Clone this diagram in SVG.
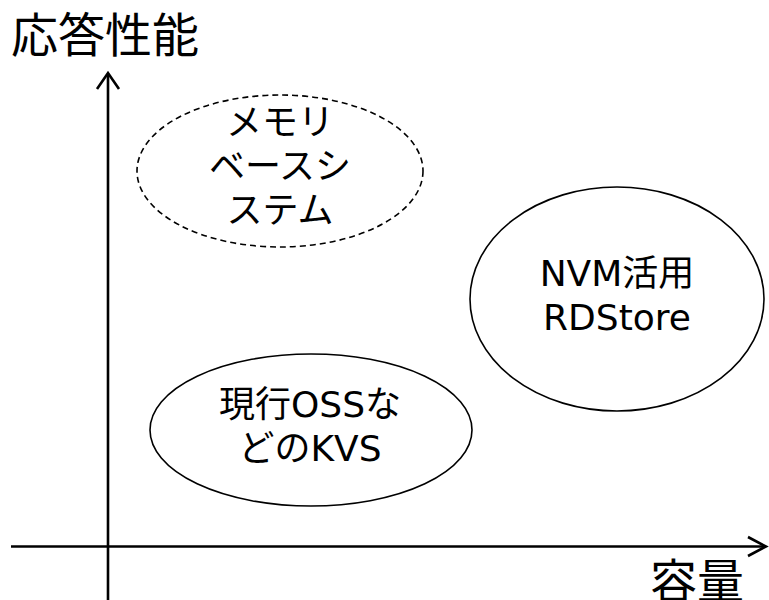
<svg xmlns="http://www.w3.org/2000/svg" width="769" height="600" viewBox="0 0 769 600">
<style>
text{font-family:"DejaVu Sans","Noto Sans CJK JP",sans-serif;fill:#000;text-anchor:middle}
.lbl{font-size:36px}
.ax{font-size:47px;text-anchor:start}
.e{fill:none;stroke:#000;stroke-width:1.6}
.axis{fill:none;stroke:#000;stroke-width:2.6}
</style>
<rect width="769" height="600" fill="#fff"/>
<g id="connectors">
<line class="axis" x1="108" y1="74" x2="108" y2="600"/>
<polyline class="axis" points="97,89 108,73 119,89"/>
<line class="axis" x1="11" y1="546.5" x2="765" y2="546.5"/>
<polyline class="axis" points="748,537 766,546.5 748,556"/>
</g>
<g id="title-y"><text class="ax" x="11" y="52">応答性能</text></g>
<g id="title-x"><text class="ax" x="650" y="598">容量</text></g>
<g id="memory">
<ellipse class="e" cx="280" cy="171" rx="143" ry="76" stroke-dasharray="6,4"/>
<text class="lbl" x="280" y="135">メモリ</text>
<text class="lbl" x="280" y="179">ベースシ</text>
<text class="lbl" x="280" y="223">ステム</text>
</g>
<g id="nvm">
<ellipse class="e" cx="617" cy="299" rx="147" ry="112"/>
<text class="lbl" x="617" y="286">NVM活用</text>
<text class="lbl" x="617" y="330">RDStore</text>
</g>
<g id="kvs">
<ellipse class="e" cx="311" cy="430" rx="161" ry="76"/>
<text class="lbl" x="310" y="417">現行OSSな</text>
<text class="lbl" x="310" y="461">どのKVS</text>
</g>
</svg>
